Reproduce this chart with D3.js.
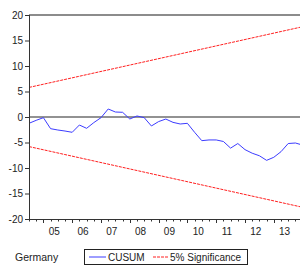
<!DOCTYPE html>
<html><head><meta charset="utf-8">
<script src="https://cdn.jsdelivr.net/npm/d3@7"></script>
<style>body{margin:0;background:#fff}svg{display:block}text{font-family:"Liberation Sans",Arial,sans-serif;fill:#222}</style>
</head><body>
<script>
// quarterly observations starting 2004Q3
const startYear = 2004, startQuarter = 3;
const cusum = [-1.24,-0.65,-0.13,-2.29,-2.55,-2.75,-3.0,-1.57,-2.22,-1.1,-0.13,1.57,0.98,0.92,-0.39,0.2,-0.13,-1.76,-0.9,-0.4,-1.05,-1.37,-1.24,-3.0,-4.64,-4.5,-4.5,-4.8,-6.1,-5.2,-6.4,-7.1,-7.6,-8.5,-7.9,-6.8,-5.2,-5.1,-5.5];
const sigIndex = [0, 38];
const sigUpper = [5.8, 17.7];
const sigLower = [-5.8, -17.7];
const yTicks = [20,15,10,5,0,-5,-10,-15,-20];
const yearLabels = ["05","06","07","08","09","10","11","12","13"];
const legendNames = ["CUSUM","5% Significance"];
const panelTitle = "Germany";

const W=300,H=268, L=29, T=15, B=219, R=300;
const svg=d3.select("body").append("svg").attr("width",W).attr("height",H);
const n=cusum.length;
const x=d3.scaleLinear().domain([0,n-1]).range([L, L+7.2*(n-1)]);
const y=d3.scaleLinear().domain([-20,20]).range([B,T]);

const g=svg.append("g");
// top frame line
g.append("line").attr("x1",L).attr("x2",R).attr("y1",y(20)).attr("y2",y(20)).attr("stroke","#8c8c8c").attr("stroke-width",2);
// zero line
g.append("line").attr("x1",L).attr("x2",R).attr("y1",y(0)).attr("y2",y(0)).attr("stroke","#6e6e6e").attr("stroke-width",1.5);

// y axis
const yAxis=d3.axisLeft(y).tickValues(yTicks).tickSize(4).tickPadding(2).tickFormat(d3.format("d"));
const ya=svg.append("g").attr("transform",`translate(${L},0)`).call(yAxis);
ya.select(".domain").attr("stroke","#333");
ya.selectAll(".tick line").attr("stroke","#333");
ya.selectAll("text").style("font-size","10px").attr("fill","#222").text(d=>d<0?"-"+Math.abs(d):d);

// x axis: quarterly minor ticks, yearly major ticks
const xa=svg.append("g");
xa.append("line").attr("x1",L).attr("x2",R).attr("y1",B+0.5).attr("y2",B+0.5).attr("stroke","#333");
d3.range(0,n).forEach(i=>{
  const q=(startQuarter-1+i)%4;
  const len = q===0?4:2.5;
  xa.append("line").attr("x1",Math.round(x(i))+0.5).attr("x2",Math.round(x(i))+0.5).attr("y1",B).attr("y2",B+len).attr("stroke","#333");
});
yearLabels.forEach((lab,k)=>{
  const firstQ1 = (4-(startQuarter-1))%4;
  const idx = firstQ1 + 4*k + 1.5;
  xa.append("text").attr("x",x(idx)).attr("y",B+16).attr("text-anchor","middle").style("font-size","10px").text(lab);
});

// significance lines
const sigLine=d3.line().x(d=>x(d[0])).y(d=>y(d[1]));
[sigUpper,sigLower].forEach(arr=>{
  g.append("path").datum(sigIndex.map((ix,j)=>[ix,arr[j]])).attr("d",sigLine).attr("fill","none").attr("stroke","#ff2020").attr("stroke-width",1).attr("stroke-dasharray","3,1");
});
// cusum
g.append("path").datum(cusum).attr("d",d3.line().x((d,i)=>x(i)).y(d=>y(d))).attr("fill","none").attr("stroke","#3c3cff").attr("stroke-width",1);

// left axis on top
svg.append("line").attr("x1",L+0.5).attr("x2",L+0.5).attr("y1",T).attr("y2",B+1).attr("stroke","#333");

// legend
svg.append("text").attr("x",15).attr("y",261).style("font-size","10.5px").text(panelTitle);
const lg=svg.append("g");
lg.append("rect").attr("x",84.5).attr("y",249.5).attr("width",163).attr("height",15).attr("fill","none").attr("stroke","#222");
lg.append("line").attr("x1",89).attr("x2",106).attr("y1",257).attr("y2",257).attr("stroke","#3c3cff");
lg.append("text").attr("x",108).attr("y",261).style("font-size","10px").text(legendNames[0]);
lg.append("line").attr("x1",153).attr("x2",168).attr("y1",257).attr("y2",257).attr("stroke","#ff2020").attr("stroke-dasharray","3,1");
lg.append("text").attr("x",170).attr("y",261).style("font-size","10px").text(legendNames[1]);
</script>
</body></html>
